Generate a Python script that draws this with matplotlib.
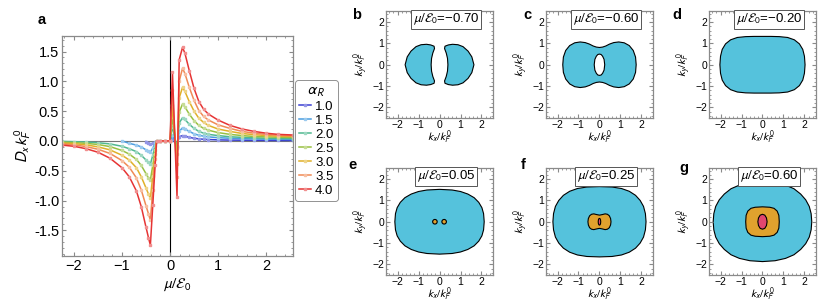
import numpy as np
import matplotlib
matplotlib.use('Agg')
import matplotlib.pyplot as plt
from matplotlib.patches import Polygon
from matplotlib.ticker import MultipleLocator

plt.rcParams['font.family'] = ['Liberation Sans', 'DejaVu Sans']
plt.rcParams['mathtext.fontset'] = 'stixsans'

nan = np.nan

#%% panel a data: D_x k_F^0 vs mu/E0 for several alpha_R
mu = [-2.25, -2.0, -1.75, -1.5, -1.25, -1.0, -0.85, -0.7, -0.6, -0.5, -0.45, -0.41, -0.36, -0.31, -0.28,
      -0.2, -0.1, 0.0, 0.05, 0.145, 0.19, 0.26, 0.31, 0.4, 0.5, 0.6, 0.7, 0.8, 1.0, 1.25, 1.5, 1.75,
      2.0, 2.25, 2.56]

alphas = ['1.0', '1.5', '2.0', '2.5', '3.0', '3.5', '4.0']

D_10 = [nan, nan, nan, nan, nan, nan, nan, nan, nan, -0.01, -0.03, -0.05, -0.04, -0.02, 0.0,
        0.0, 0.0, 0.0, 0.03, -0.08, 0.07, 0.09, 0.08, 0.06, 0.045, 0.035, 0.028, 0.024, 0.018,
        0.014, 0.012, 0.01, 0.009, 0.008, 0.008]
D_15 = [nan, nan, nan, nan, nan, 0.0, -0.04, -0.07, -0.10, -0.15, -0.17, -0.19, -0.12, -0.04, 0.0,
        0.0, 0.0, 0.0, 0.10, -0.10, 0.16, 0.22, 0.20, 0.16, 0.12, 0.095, 0.08, 0.068, 0.055,
        0.045, 0.038, 0.034, 0.03, 0.028, 0.026]
D_20 = [-0.008, -0.012, -0.018, -0.03, -0.05, -0.09, -0.13, -0.18, -0.24, -0.32, -0.36, -0.39,
        -0.24, -0.09, 0.0, 0.0, 0.0, 0.0, 0.24, -0.12, 0.30, 0.39, 0.36, 0.28, 0.21, 0.16, 0.13,
        0.11, 0.09, 0.07, 0.06, 0.052, 0.046, 0.042, 0.04]
D_25 = [-0.02, -0.028, -0.04, -0.06, -0.095, -0.16, -0.22, -0.31, -0.41, -0.55, -0.62, -0.66,
        -0.41, -0.15, 0.0, 0.0, 0.0, 0.0, 0.40, -0.22, 0.48, 0.62, 0.57, 0.45, 0.34, 0.26, 0.21,
        0.18, 0.14, 0.11, 0.09, 0.075, 0.068, 0.062, 0.058]
D_30 = [-0.035, -0.045, -0.065, -0.10, -0.15, -0.24, -0.32, -0.45, -0.60, -0.79, -0.89, -0.96,
        -0.59, -0.22, 0.0, 0.0, 0.0, 0.0, 0.60, -0.38, 0.72, 0.90, 0.83, 0.66, 0.50, 0.38, 0.31,
        0.26, 0.20, 0.16, 0.125, 0.105, 0.09, 0.08, 0.075]
D_35 = [-0.05, -0.065, -0.095, -0.14, -0.21, -0.33, -0.44, -0.62, -0.82, -1.09, -1.22, -1.33,
        -0.82, -0.30, 0.0, 0.0, 0.0, 0.0, 0.85, -0.60, 1.00, 1.22, 1.13, 0.90, 0.68, 0.51, 0.41,
        0.35, 0.27, 0.21, 0.16, 0.13, 0.11, 0.095, 0.085]
D_40 = [-0.07, -0.09, -0.13, -0.19, -0.29, -0.45, -0.60, -0.84, -1.10, -1.45, -1.62, -1.75,
        -1.08, -0.40, 0.0, 0.0, 0.0, 0.0, 1.15, -0.94, 1.36, 1.57, 1.47, 1.18, 0.88, 0.66, 0.53,
        0.45, 0.35, 0.26, 0.20, 0.16, 0.13, 0.11, 0.10]

curves = [D_10, D_15, D_20, D_25, D_30, D_35, D_40]
colors = ['#3b3fd2', '#4a9ee0', '#4fb890', '#98c040', '#e0b028', '#f08a55', '#e63434']

#%% panels b-g: Fermi surface boundaries (first quadrant, from kx axis to ky axis)
mu_labels = ['-0.70', '-0.60', '-0.20', '0.05', '0.25', '0.60']

# b: right kidney, upper half from inner edge round to outer edge
kid_b = [(0.40, 0.0), (0.38, 0.3), (0.32, 0.55), (0.24, 0.76), (0.26, 0.87), (0.42, 0.93),
         (0.62, 0.96), (0.88, 0.94), (1.12, 0.85), (1.36, 0.64), (1.54, 0.37), (1.64, 0.0)]
# c: peanut with hole
out_c = [(1.75, 0.0), (1.72, 0.36), (1.61, 0.67), (1.42, 0.90), (1.18, 1.03), (0.92, 1.07),
         (0.68, 1.04), (0.48, 0.97), (0.30, 0.88), (0.15, 0.83), (0.0, 0.81)]
hole_c = [(0.25, 0.0), (0.22, 0.25), (0.15, 0.40), (0.08, 0.48), (0.0, 0.50)]
# d
out_d = [(2.03, 0.0), (2.0, 0.40), (1.92, 0.72), (1.76, 0.98), (1.52, 1.17), (1.20, 1.28),
         (0.80, 1.32), (0.40, 1.33), (0.0, 1.33)]
# e
out_e = [(2.13, 0.0), (2.10, 0.38), (2.02, 0.66), (1.87, 0.91), (1.65, 1.13), (1.35, 1.30),
         (1.0, 1.42), (0.6, 1.49), (0.0, 1.52)]
dot_e = [(0.11, 0.0), (0.095, 0.055), (0.055, 0.095), (0.0, 0.11)]
dot_e_kx = [-0.22, 0.22]
# f
out_f = [(2.22, 0.0), (2.19, 0.38), (2.10, 0.72), (1.94, 1.00), (1.72, 1.24), (1.42, 1.43),
         (1.05, 1.56), (0.6, 1.63), (0.0, 1.65)]
mid_f = [(0.55, 0.0), (0.53, 0.15), (0.47, 0.28), (0.38, 0.35), (0.27, 0.37), (0.15, 0.34),
         (0.0, 0.31)]
in_f = [(0.06, 0.0), (0.05, 0.09), (0.03, 0.14), (0.0, 0.16)]
# g
out_g = [(2.35, 0.0), (2.32, 0.38), (2.23, 0.72), (2.06, 1.03), (1.82, 1.30), (1.50, 1.55),
         (1.10, 1.72), (0.6, 1.83), (0.0, 1.87)]
mid_g = [(0.80, 0.0), (0.78, 0.30), (0.70, 0.50), (0.55, 0.63), (0.35, 0.68), (0.0, 0.70)]
in_g = [(0.22, 0.0), (0.19, 0.18), (0.11, 0.31), (0.0, 0.35)]

cyan = '#55c2dc'
orange = '#e0a22e'
pink = '#e2466f'


def full_loop(q1):
    # mirror a first-quadrant arc into a closed curve
    pts = list(q1)
    pts += [(-x, y) for x, y in reversed(q1)]
    pts += [(-x, -y) for x, y in q1]
    pts += [(x, -y) for x, y in reversed(q1)]
    return pts


def half_to_full(upper):
    return list(upper) + [(x, -y) for x, y in reversed(upper)]


def blob(ax, pts, fc, dx=0.0):
    ax.add_patch(Polygon([(x + dx, y) for x, y in pts], closed=True, fc=fc, ec='k', lw=0.8,
                         joinstyle='round'))


def style_axes(ax, fs, pad=2):
    for s in ax.spines.values():
        s.set_color('#8a8a8a')
        s.set_linewidth(0.9)
    ax.tick_params(which='both', direction='in', top=True, right=True, color='#8a8a8a',
                   labelsize=fs, pad=pad)
    ax.tick_params(which='major', length=3)
    ax.tick_params(which='minor', length=1.5)


fig = plt.figure(figsize=(8.3, 3.07), dpi=100)

#%% panel a
ax = fig.add_axes([0.0747, 0.1661, 0.2783, 0.7166])
ax.axhline(0, color='#777777', lw=0.8, zorder=1)
ax.axvline(0, color='k', lw=0.8, zorder=1)
for lab, d, c in zip(alphas, curves, colors):
    light = tuple(0.55 * np.array(matplotlib.colors.to_rgb(c)) + 0.45)
    ax.plot(mu, d, color=c, lw=1.1, marker='s', ms=1.8, mfc=light, mec=light, label=lab,
            zorder=2)
ax.set_xlim(-2.25, 2.56)
ax.set_ylim(-1.93, 1.76)
ax.xaxis.set_major_locator(MultipleLocator(1))
ax.xaxis.set_minor_locator(MultipleLocator(0.2))
ax.yaxis.set_major_locator(MultipleLocator(0.5))
ax.yaxis.set_minor_locator(MultipleLocator(0.1))
ax.yaxis.set_major_formatter(matplotlib.ticker.FormatStrFormatter('%.1f'))
style_axes(ax, 10.5)
ax.set_xlabel(r'$\mu/\mathcal{E}_0$', fontsize=11, labelpad=3)
ax.set_ylabel(r'$D_x\,k_F^0$', fontsize=11, labelpad=1)
leg = ax.legend(title=r'$\alpha_R$', loc='upper left', bbox_to_anchor=(1.01, 0.80),
                fontsize=9.5, title_fontsize=11, handlelength=0.9, handletextpad=0.3,
                borderpad=0.3, labelspacing=0.13, fancybox=True, frameon=True,
                borderaxespad=0)
leg.get_frame().set_edgecolor('#777777')
leg.get_frame().set_linewidth(0.7)

#%% panels b-g
lefts = [0.4651, 0.6578, 0.8542]
bottoms = [0.6156, 0.1042]
letters = ['b', 'c', 'd', 'e', 'f', 'g']
letter_pos = [(0.430, 0.951), (0.635, 0.951), (0.8157, 0.951),
              (0.4253, 0.4625), (0.630, 0.4625), (0.824, 0.4528)]

axs = []
for i in range(6):
    a = fig.add_axes([lefts[i % 3], bottoms[i // 3], 0.1289, 0.347])
    axs.append(a)
    a.set_xlim(-2.55, 2.55)
    a.set_ylim(-2.5, 2.5)
    a.set_xticks([-2, -1, 0, 1, 2])
    a.set_yticks([-2, -1, 0, 1, 2])
    a.xaxis.set_minor_locator(MultipleLocator(0.2))
    a.yaxis.set_minor_locator(MultipleLocator(0.2))
    style_axes(a, 7.5, pad=1.5)
    a.set_xlabel(r'$k_x/k_F^0$', fontsize=8, labelpad=-0.5)
    a.set_ylabel(r'$k_y/k_F^0$', fontsize=8, labelpad=1)
    a.text(0.56, 0.925, r'$\mu/\mathcal{E}_0$=' + mu_labels[i].replace('-', '\u2212'),
           transform=a.transAxes, ha='center', va='center', fontsize=9.5, zorder=5,
           bbox=dict(boxstyle='square,pad=0.15', fc='white', ec='#555555', lw=0.7))
    fig.text(letter_pos[i][0], letter_pos[i][1], letters[i], fontsize=10.5, fontweight='bold',
             ha='center', va='center')

fig.text(0.0506, 0.935, 'a', fontsize=10.5, fontweight='bold', ha='center', va='center')

# b
kid = half_to_full(kid_b)
blob(axs[0], kid, cyan)
blob(axs[0], [(-x, y) for x, y in kid], cyan)
# c
blob(axs[1], full_loop(out_c), cyan)
blob(axs[1], full_loop(hole_c), 'white')
# d
blob(axs[2], full_loop(out_d), cyan)
# e
blob(axs[3], full_loop(out_e), cyan)
for kx0 in dot_e_kx:
    blob(axs[3], full_loop(dot_e), orange, dx=kx0)
# f
blob(axs[4], full_loop(out_f), cyan)
blob(axs[4], full_loop(mid_f), orange)
blob(axs[4], full_loop(in_f), pink)
# g
blob(axs[5], full_loop(out_g), cyan)
blob(axs[5], full_loop(mid_g), orange)
blob(axs[5], full_loop(in_g), pink)

fig.savefig('out.png', dpi=100)
